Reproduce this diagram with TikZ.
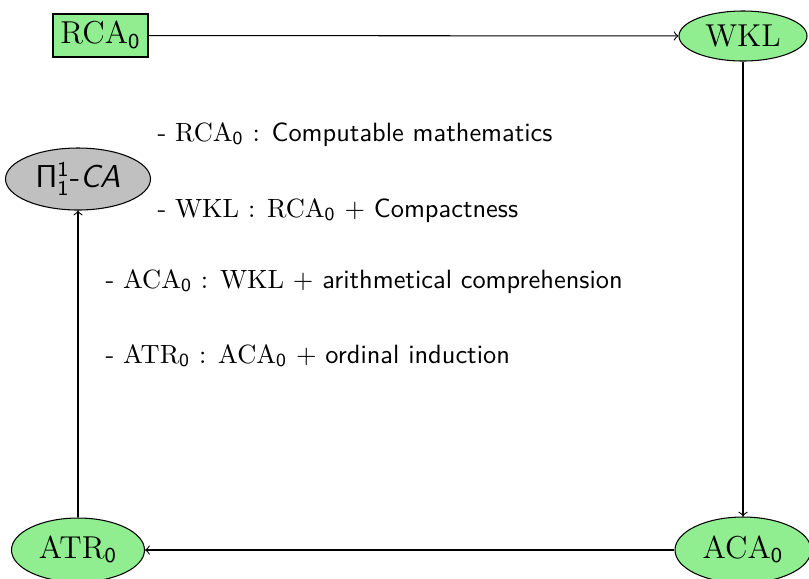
\documentclass[tikz,border=0pt]{standalone}
\usepackage{amsmath}
\usetikzlibrary{shapes.geometric}
\definecolor{lgreen}{RGB}{144,238,144}
\definecolor{lgray}{RGB}{192,192,192}
\tikzset{
  rbox/.style={draw, fill=lgreen, inner sep=0pt, font=\large},
  gell/.style={ellipse, draw, fill=lgreen, inner sep=0pt, font=\large},
  pell/.style={ellipse, draw, fill=lgray, inner sep=0pt, font=\large\sffamily},
  desc/.style={anchor=base west, inner sep=0pt},
  conn/.style={->}
}
\begin{document}
\begin{tikzpicture}[x=0.3788pt,y=-0.3788pt]
\useasboundingbox (0,0) rectangle (809,578);
\node[rbox, minimum width=95*0.3788pt, minimum height=43*0.3788pt] (rca) at (100.5,35.5) {$\mathrm{RCA}_{\textsf{0}}$};
\node[gell, minimum width=128*0.3788pt, minimum height=50*0.3788pt] (wkl) at (743,36) {$\mathrm{WKL}$};
\node[gell, minimum width=136*0.3788pt, minimum height=66*0.3788pt] (aca) at (743,550) {$\mathrm{ACA}_{\textsf{0}}$};
\node[gell, minimum width=133*0.3788pt, minimum height=64*0.3788pt] (atr) at (78,550) {$\mathrm{ATR}_{\textsf{0}}$};
\node[pell, minimum width=145*0.3788pt, minimum height=62*0.3788pt] (pi) at (78,179) {Π$^{\textsf{1}}_{\textsf{1}}$-\textit{CA}};
\draw[conn] (rca) -- (wkl);
\draw[conn] (wkl) -- (aca);
\draw[conn] (aca) -- (atr);
\draw[conn] (atr) -- (pi);
\node[desc] (d1) at (157,141) {\textsf{-} $\mathrm{RCA}_{\textsf{0}}$ : \textsf{Computable mathematics}};
\node[desc] (d2) at (157,217) {\textsf{-} $\mathrm{WKL}$ : $\mathrm{RCA}_{\textsf{0}}$ $+$ \textsf{Compactness}};
\node[desc] (d3) at (105,288) {\textsf{-} $\mathrm{ACA}_{\textsf{0}}$ : $\mathrm{WKL}$ $+$ \textsf{arithmetical comprehension}};
\node[desc] (d4) at (105,363) {\textsf{-} $\mathrm{ATR}_{\textsf{0}}$ : $\mathrm{ACA}_{\textsf{0}}$ $+$ \textsf{ordinal induction}};
\end{tikzpicture}
\end{document}
